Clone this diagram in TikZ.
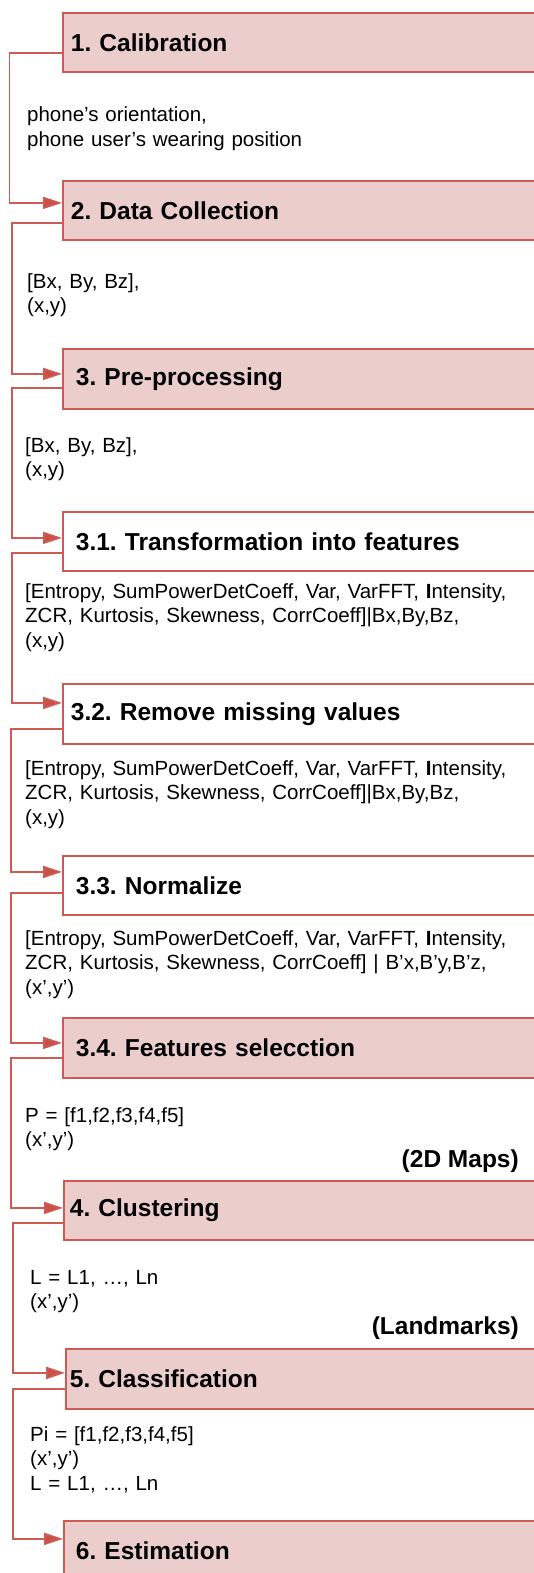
\documentclass[tikz,border=0pt]{standalone}
\usepackage{fontspec}
\setmainfont{Liberation Sans}
\usetikzlibrary{arrows.meta}
\definecolor{boxfill}{RGB}{235,205,204}
\definecolor{boxline}{RGB}{205,90,84}
\definecolor{arrowred}{RGB}{200,80,70}
\frenchspacing
\begin{document}
\begin{tikzpicture}[x=1pt,y=-1pt,
  stepbox/.style={draw=boxline, line width=1.8pt, anchor=north west,
    minimum height=59pt, text width=470pt, align=left, inner ysep=0pt,
    font=\fontsize{24.5}{28}\selectfont\bfseries},
  pinkbox/.style={stepbox, fill=boxfill},
  whitebox/.style={stepbox, fill=white},
  conn/.style={draw=boxline, line width=1.8pt, -{Triangle[length=19pt,width=12pt,fill=arrowred]}},
  lab/.style={anchor=base west, align=left, text width=508pt, inner sep=0pt,
    font=\fontsize{20.5}{24.5}\selectfont},
  tag/.style={anchor=base east, inner sep=0pt, font=\fontsize{24.5}{28}\selectfont\bfseries}]
\useasboundingbox (0,0) rectangle (534,1573);
\clip (0,0) rectangle (534,1573);

\node[pinkbox, inner xsep=8pt] (b1) at (62,12) {1. Calibration};
\node[pinkbox, inner xsep=8pt] (b2) at (62,180) {2. Data Collection};
\node[pinkbox, inner xsep=13pt, minimum height=60pt] (b3) at (62,348) {3. Pre-processing};
\node[whitebox, inner xsep=13pt] (b31) at (62,511) {3.1. Transformation into features};
\node[whitebox, inner xsep=8pt, minimum height=60pt] (b32) at (62,683) {3.2. Remove missing values};
\node[whitebox, inner xsep=13pt] (b33) at (62,855) {3.3. Normalize};
\node[pinkbox, inner xsep=13pt, minimum height=60pt] (b34) at (62,1017) {3.4. Features selecction};
\node[pinkbox, inner xsep=6pt] (b4) at (63,1180) {4. Clustering};
\node[pinkbox, inner xsep=4pt, minimum height=60pt] (b5) at (65,1348) {5. Classification};
\node[pinkbox, inner xsep=12pt] (b6) at (63,1520) {6. Estimation};

\draw[conn] ([yshift=-10.5pt]b1.west) -- ++(-52.5,0) |- ([yshift=7.5pt]b2.west);
\draw[conn] ([yshift=-12.5pt]b2.west) -- ++(-50,0) |- ([yshift=5pt]b3.west);
\draw[conn] ([yshift=-9pt]b3.west) -- ++(-50,0) |- ([yshift=3.5pt]b31.west);
\draw[conn] ([yshift=-11.5pt]b31.west) -- ++(-50,0) |- ([yshift=11pt]b32.west);
\draw[conn] ([yshift=-15pt]b32.west) -- ++(-51,0) |- ([yshift=13.5pt]b33.west);
\draw[conn] ([yshift=-7.5pt]b33.west) -- ++(-51,0) |- ([yshift=5pt]b34.west);
\draw[conn] ([yshift=-10pt]b34.west) -- ++(-51,0) |- ([yshift=2.5pt]b4.west);
\draw[conn] ([yshift=-12.5pt]b4.west) -- ++(-50,0) |- ([yshift=6pt]b5.west);
\draw[conn] ([yshift=-10pt]b5.west) -- ++(-52,0) |- ([yshift=11.5pt]b6.west);

\node[lab] (l1) at (27,122) {phone’s orientation,\\phone user’s wearing position};
\node[lab] (l2) at (27,288) {[Bx, By, Bz],\\(x,y)};
\node[lab] (l3) at (25,452) {[Bx, By, Bz],\\(x,y)};
\node[lab] (l31) at (25,598) {[Entropy, SumPowerDetCoeff, Var, VarFFT, \textbf{I}ntensity,\\ZCR, Kurtosis, Skewness, CorrCoeff]|Bx,By,Bz,\\(x,y)};
\node[lab] (l32) at (25,775) {[Entropy, SumPowerDetCoeff, Var, VarFFT, \textbf{I}ntensity,\\ZCR, Kurtosis, Skewness, CorrCoeff]|Bx,By,Bz,\\(x,y)};
\node[lab] (l33) at (25,945) {[Entropy, SumPowerDetCoeff, Var, VarFFT, \textbf{I}ntensity,\\ZCR, Kurtosis, Skewness, CorrCoeff] | B’x,B’y,B’z,\\(x’,y’)};
\node[lab] (l34) at (25,1122) {P = [f1,f2,f3,f4,f5]\\(x’,y’)};
\node[tag] (maps) at (519,1167) {(2D Maps)};
\node[lab] (l4) at (30,1284) {L = L1, …, Ln\\(x’,y’)};
\node[tag] (lmk) at (519,1334) {(Landmarks)};
\node[lab] (l5) at (30,1441) {Pi = [f1,f2,f3,f4,f5]\\(x’,y’)\\L = L1, …, Ln};
\end{tikzpicture}
\end{document}
